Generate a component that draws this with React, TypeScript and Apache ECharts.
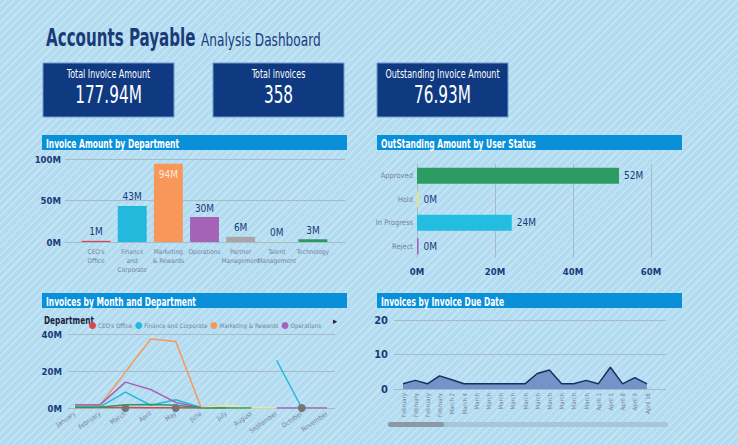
import React, { useEffect, useRef } from "react";
import * as echarts from "echarts";

const FONT = "'DejaVu Sans Condensed', 'Liberation Sans Narrow', Roboto, sans-serif";

const kpiTitles = ["Total Invoice Amount", "Total invoices", "Outstanding Invoice Amount"];
const kpiValues = ["177.94M", "358", "76.93M"];

const departments = ["CEO's Office", "Finance and Corporate", "Marketing & Rewards", "Operations", "Partner Management", "Talent Management", "Technology"];
const deptAxisLabels = ["CEO's\nOffice", "Finance\nand\nCorporate", "Marketing\n& Rewards", "Operations", "Partner\nManagement", "Talent\nManagement", "Technology"];
const deptAmounts = [1.4, 43.4, 94.2, 30.1, 6.2, 0.4, 3.3];
const deptColors = ["#d9464f", "#22b9dc", "#f7975a", "#a463b6", "#a7a7a7", "#ecea9e", "#2b9a5e"];

const userStatuses = ["Approved", "Hold", "In Progress", "Reject"];
const outstandingAmounts = [51.8, 0.4, 24.3, 0.4];
const statusColors = ["#2c9c62", "#ebe46e", "#22bde0", "#a35fb2"];

const months = ["January", "February", "March", "April", "May", "June", "July", "August", "September", "October", "November"];
const ceoMonthly = [0.3, 0.3, 0.3, 0.2, 0.1, 0, 0, null, null, null, null];
const financeMonthly = [0.6, 0.6, 8.6, 1.5, 4.5, 0.3, 0.2, null, 25.8, 0, null];
const marketingMonthly = [1.5, 1.5, 19.4, 37.3, 36.0, 0.4, 1.5, null, null, null, null];
const operationsMonthly = [1.8, 1.8, 14.0, 10.0, 3.0, 0.2, null, null, 0, 0, 0];
const partnerMonthly = [null, null, 0, null, 0, null, null, null, null, 0, null];
const talentMonthly = [null, null, null, null, null, 0.3, 1.5, 0, 0, null, null];
const technologyMonthly = [0.4, 0.4, 1.8, 1.9, 1.5, 0.2, 0, 0, null, null, null];

const dueDates = ["February", "February", "February", "February", "March 2", "March 4", "March", "March", "March", "March", "March", "March", "March", "March", "March", "March", "April 1", "April 2", "April 8", "April 9", "April 16"];
const dueCounts = [1.5, 2.5, 1.5, 3.8, 2.7, 1.5, 1.5, 1.5, 1.5, 1.5, 1.5, 4.5, 5.5, 1.5, 1.5, 2.5, 1.5, 6.3, 1.5, 3.3, 1.5];

const NAVY = "#1b3a78";
const GRIDLINE = "#a6bac9";
const GRAYTXT = "#77839a";

export default function App() {
  const ref = useRef<HTMLDivElement>(null);
  useEffect(() => {
    if (!ref.current) return;
    const chart = echarts.init(ref.current, null, { renderer: "svg" });

    const kpiX = [43, 213, 377];
    const kpiGraphics: any[] = [];
    kpiX.forEach((x, i) => {
      kpiGraphics.push({ type: "rect", shape: { x, y: 63, width: 131, height: 54 }, style: { fill: "#0f3a82", stroke: "#6f9ad0", lineWidth: 1 } });
      kpiGraphics.push({ type: "text", x: x + 65.5, y: 73, scaleX: 0.74, style: { text: kpiTitles[i], fill: "#ffffff", font: `12px ${FONT}`, align: "center", verticalAlign: "middle" } });
      kpiGraphics.push({ type: "text", x: x + 65.5, y: 94, scaleX: 0.68, style: { text: kpiValues[i], fill: "#ffffff", font: `25px ${FONT}`, align: "center", verticalAlign: "middle" } });
    });

    const headers = [
      { x: 42, y: 135, text: "Invoice Amount by Department" },
      { x: 377, y: 135, text: "OutStanding Amount by User Status" },
      { x: 42, y: 293, text: "Invoices by Month and Department" },
      { x: 377, y: 293, text: "Invoices by Invoice Due Date" },
    ];
    const headerGraphics: any[] = [];
    headers.forEach((h) => {
      headerGraphics.push({ type: "rect", shape: { x: h.x, y: h.y, width: 305, height: 15 }, style: { fill: "#0a8fd9" } });
      headerGraphics.push({ type: "text", x: h.x + 4, y: h.y + 8, scaleX: 0.7, style: { text: h.text, fill: "#ffffff", font: `bold 12px ${FONT}`, verticalAlign: "middle" } });
    });

    const monthlySeries = [ceoMonthly, financeMonthly, marketingMonthly, operationsMonthly, partnerMonthly, talentMonthly, technologyMonthly];

    const valueAxisLabel = { color: NAVY, fontFamily: FONT, fontWeight: "bold", fontSize: 9.5 };

    const option: any = {
      animation: false,
      textStyle: { fontFamily: FONT },
      graphic: [
        { type: "text", x: 46, y: 38, scaleX: 0.7, style: { text: "Accounts Payable", fill: NAVY, font: `bold 24px ${FONT}`, verticalAlign: "middle" } },
        { type: "text", x: 201, y: 40, scaleX: 0.75, style: { text: "Analysis Dashboard", fill: NAVY, font: `18px ${FONT}`, verticalAlign: "middle" } },
        ...kpiGraphics,
        ...headerGraphics,
        { type: "text", x: 44, y: 321, scaleX: 0.82, style: { text: "Department", fill: "#1a2340", font: `bold 10px ${FONT}`, verticalAlign: "middle" } },
        { type: "text", x: 333, y: 321, style: { text: "▸", fill: "#1a2340", font: `9px ${FONT}`, verticalAlign: "middle" } },
        { type: "rect", shape: { x: 388, y: 422, width: 280, height: 5, r: 2.5 }, style: { fill: "#a7c5d6" } },
        { type: "rect", shape: { x: 388, y: 422, width: 56, height: 5, r: 2.5 }, style: { fill: "#8d99a2" } },
      ],
      legend: {
        left: 84, top: 317, icon: "circle", itemWidth: 7, itemHeight: 7, itemGap: 3,
        data: departments.slice(0, 4),
        textStyle: { color: GRAYTXT, fontSize: 6.2, fontFamily: FONT, padding: [0, 0, 0, -3] },
      },
      grid: [
        { left: 65, top: 159, width: 280, height: 83 },
        { left: 78, top: 159, width: 253, height: 83 },
        { left: 417, top: 164, width: 234, height: 94 },
        { left: 68, top: 334, width: 267, height: 74 },
        { left: 75, top: 334, width: 252, height: 74 },
        { left: 394, top: 320, width: 272, height: 69 },
        { left: 403, top: 320, width: 244, height: 69 },
      ],
      xAxis: [
        { gridIndex: 0, type: "value", show: false },
        {
          gridIndex: 1, type: "category", data: departments,
          axisLine: { show: false }, axisTick: { show: false },
          axisLabel: { interval: 0, color: GRAYTXT, fontSize: 6.5, lineHeight: 9, margin: 5, fontFamily: FONT, formatter: (v: string) => deptAxisLabels[departments.indexOf(v)] },
        },
        {
          gridIndex: 2, type: "value", min: 0, max: 60, interval: 20,
          axisLine: { show: false }, axisTick: { show: false },
          splitLine: { lineStyle: { color: GRIDLINE } },
          axisLabel: { ...valueAxisLabel, margin: 8, formatter: (v: number) => `${v}M` },
        },
        { gridIndex: 3, type: "value", show: false },
        {
          gridIndex: 4, type: "category", data: months, boundaryGap: false,
          axisLine: { show: false }, axisTick: { show: false },
          axisLabel: { interval: 0, rotate: 35, color: GRAYTXT, fontSize: 6.5, margin: 5, fontFamily: FONT },
        },
        { gridIndex: 5, type: "value", show: false },
        {
          gridIndex: 6, type: "category", data: dueDates, boundaryGap: false,
          axisLine: { show: false }, axisTick: { show: false },
          axisLabel: { interval: 0, rotate: 90, color: GRAYTXT, fontSize: 6, margin: 4, fontFamily: FONT },
        },
      ],
      yAxis: [
        {
          gridIndex: 0, type: "value", min: 0, max: 100, interval: 50,
          axisLine: { show: false }, axisTick: { show: false },
          splitLine: { lineStyle: { color: GRIDLINE } },
          axisLabel: { ...valueAxisLabel, margin: 4, formatter: (v: number) => `${v}M` },
        },
        { gridIndex: 1, type: "value", min: 0, max: 100, show: false },
        {
          gridIndex: 2, type: "category", data: userStatuses, inverse: true,
          axisLine: { show: false }, axisTick: { show: false },
          axisLabel: { color: GRAYTXT, fontSize: 7.5, margin: 4, fontFamily: FONT },
        },
        {
          gridIndex: 3, type: "value", min: 0, max: 40, interval: 20,
          axisLine: { show: false }, axisTick: { show: false },
          splitLine: { lineStyle: { color: GRIDLINE } },
          axisLabel: { ...valueAxisLabel, margin: 6, formatter: (v: number) => `${v}M` },
        },
        { gridIndex: 4, type: "value", min: 0, max: 40, show: false },
        {
          gridIndex: 5, type: "value", min: 0, max: 20, interval: 10,
          axisLine: { show: false }, axisTick: { show: false },
          splitLine: { lineStyle: { color: GRIDLINE } },
          axisLabel: { ...valueAxisLabel, fontSize: 11, margin: 6 },
        },
        { gridIndex: 6, type: "value", min: 0, max: 20, show: false },
      ],
      series: [
        {
          type: "bar", xAxisIndex: 1, yAxisIndex: 1, barCategoryGap: "20%",
          data: deptAmounts.map((v, i) => ({
            value: v,
            itemStyle: { color: deptColors[i] },
            label: i === 2 ? { position: "insideTop", color: "#fde6d6", distance: 6 } : undefined,
          })),
          label: { show: true, position: "top", color: NAVY, fontSize: 10, fontFamily: FONT, distance: 4, formatter: (p: any) => `${Math.round(p.value)}M` },
        },
        {
          type: "bar", xAxisIndex: 2, yAxisIndex: 2, barCategoryGap: "32%",
          data: outstandingAmounts.map((v, i) => ({ value: v, itemStyle: { color: statusColors[i] } })),
          label: { show: true, position: "right", color: NAVY, fontSize: 10, fontFamily: FONT, distance: 5, formatter: (p: any) => `${Math.round(p.value)}M` },
        },
        ...departments.map((name, i) => ({
          type: "line", name, xAxisIndex: 4, yAxisIndex: 4,
          data: monthlySeries[i],
          color: deptColors[i],
          showSymbol: name === "Partner Management",
          symbol: "circle", symbolSize: 8,
          itemStyle: name === "Partner Management" ? { color: "#757575" } : { color: deptColors[i] },
          lineStyle: { width: 1.5, color: deptColors[i] },
          z: name === "Partner Management" ? 5 : 2,
        })),
        {
          type: "line", xAxisIndex: 6, yAxisIndex: 6, data: dueCounts,
          showSymbol: false,
          lineStyle: { color: "#17305f", width: 1.5 },
          areaStyle: { color: "#6d8bc4", opacity: 0.9 },
        },
      ],
    };
    chart.setOption(option);
    return () => chart.dispose();
  }, []);

  return (
    <div
      ref={ref}
      style={{
        position: "absolute",
        left: 0,
        top: 0,
        width: 738,
        height: 445,
        background: "repeating-linear-gradient(135deg, #b4dcf1 0px, #b4dcf1 4px, #c4e5f6 4px, #c4e5f6 5.5px)",
      }}
    />
  );
}
